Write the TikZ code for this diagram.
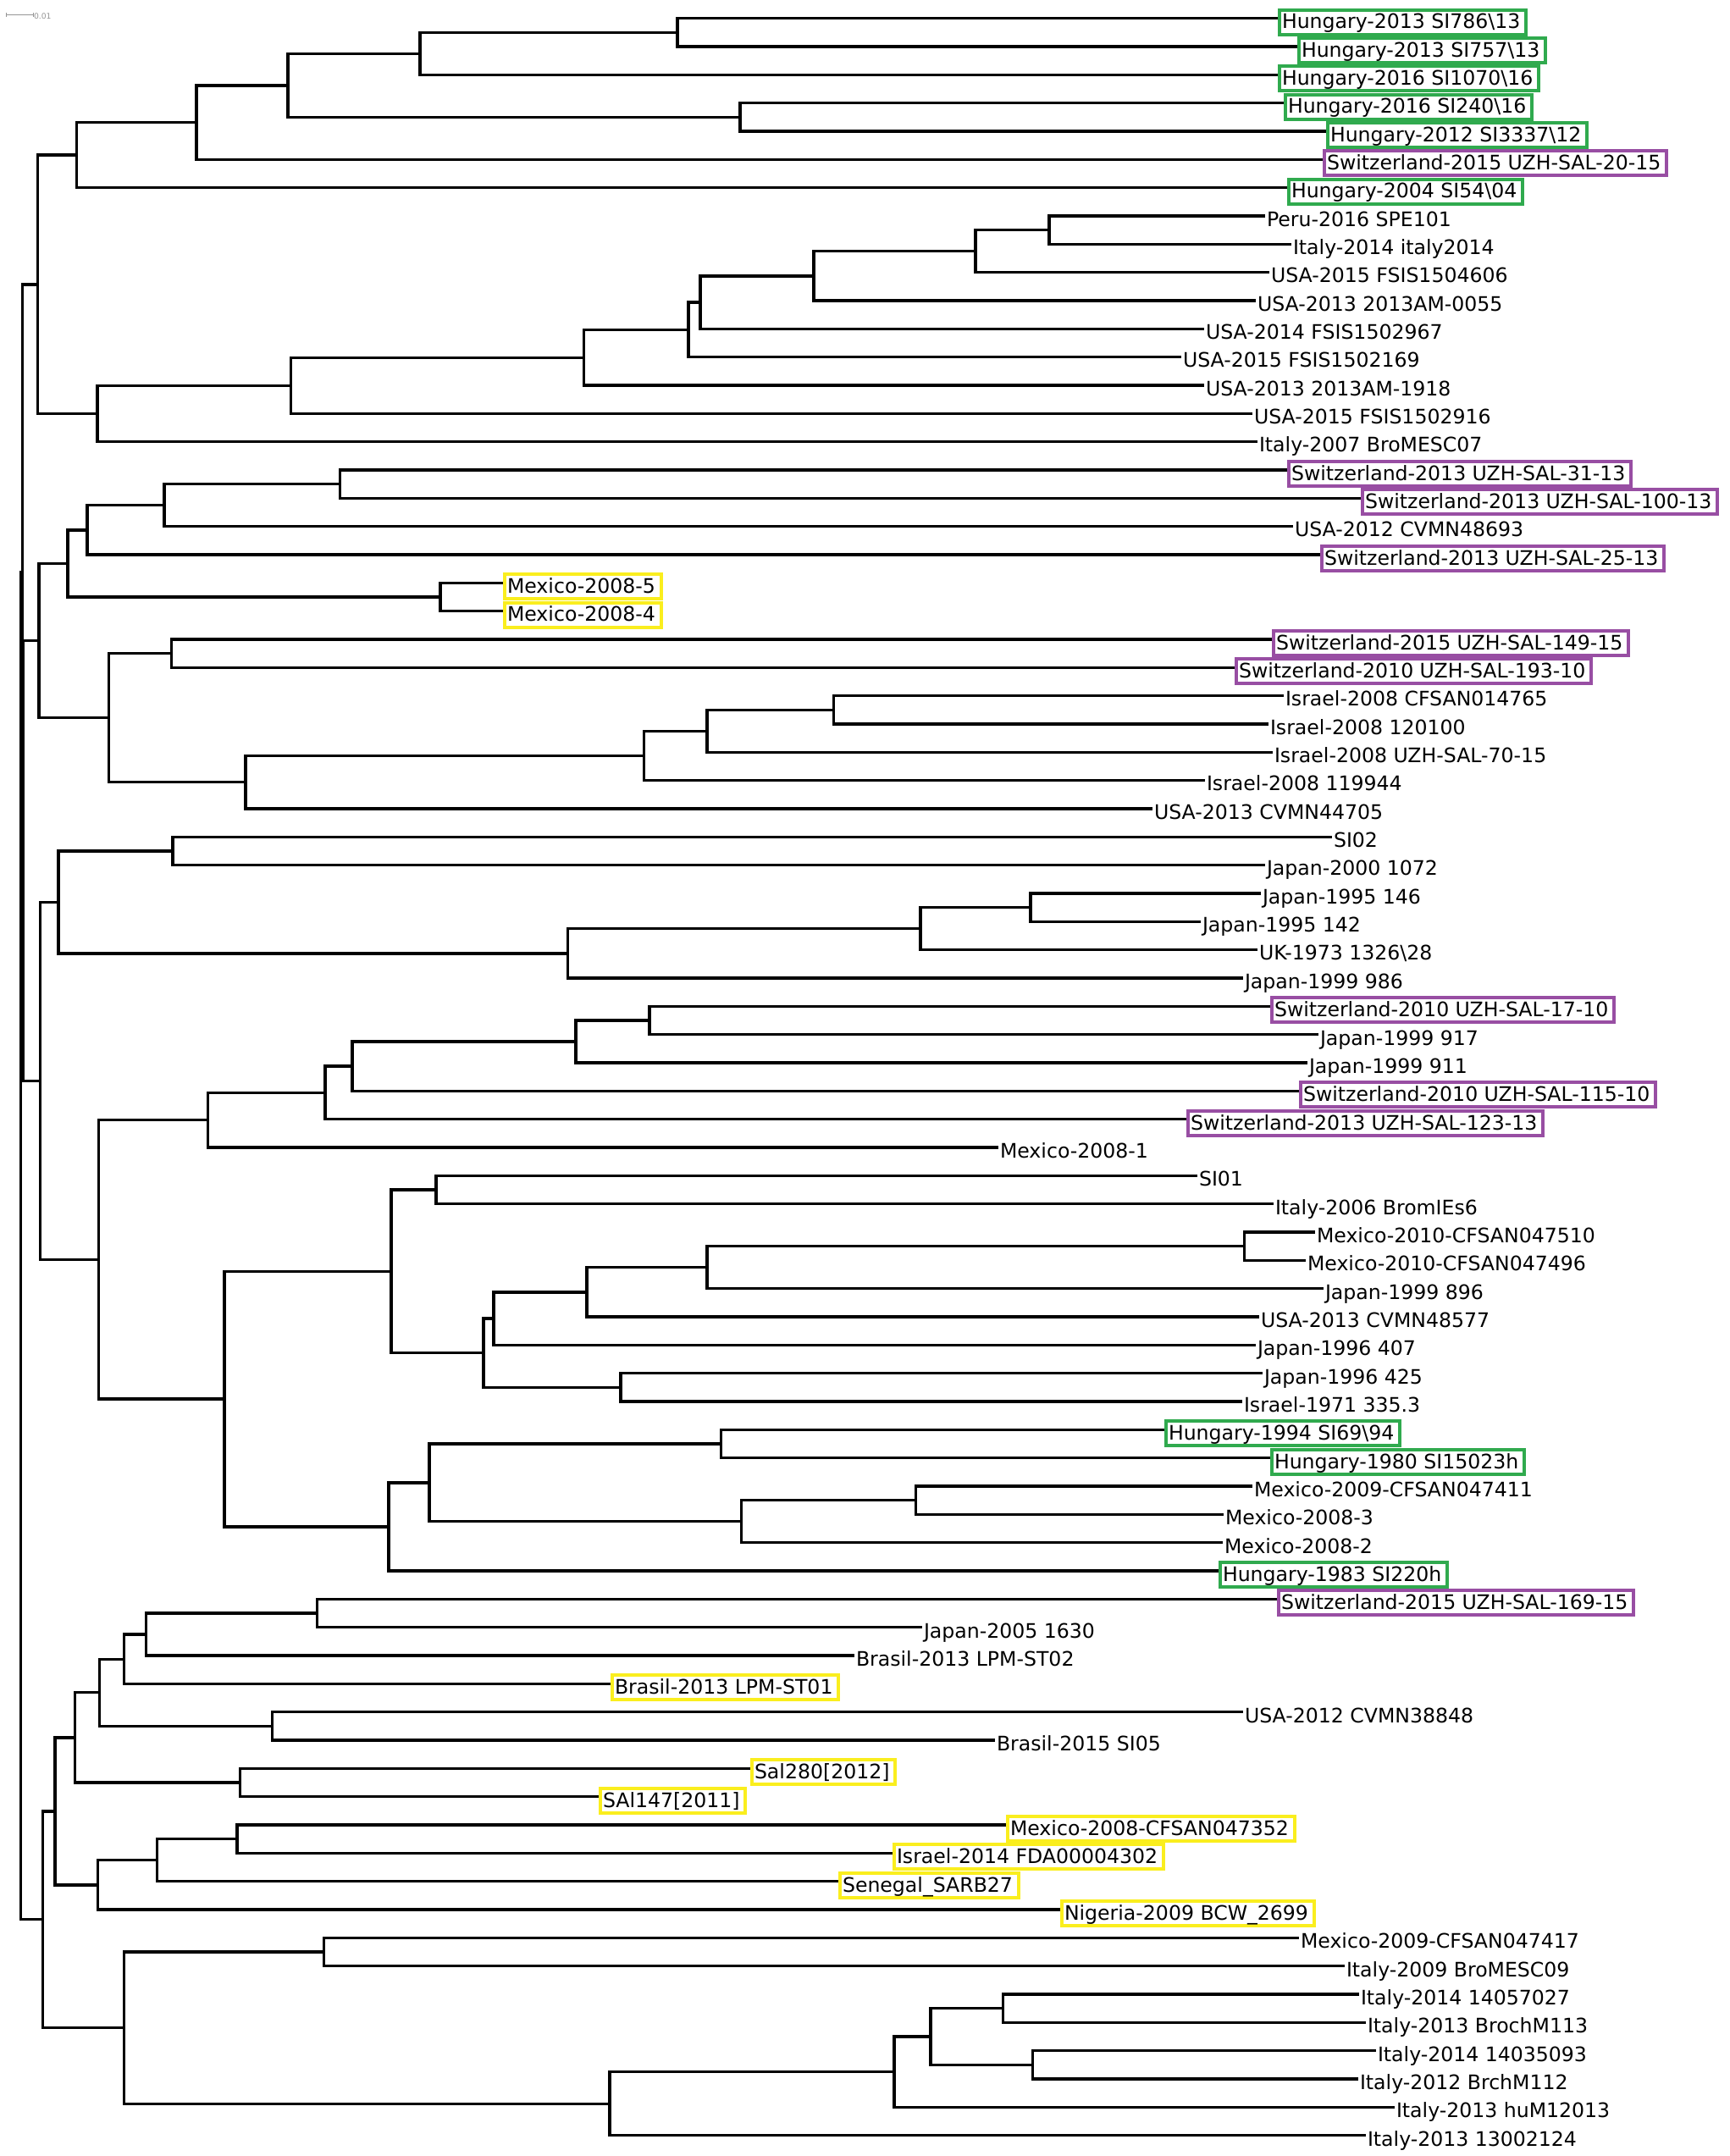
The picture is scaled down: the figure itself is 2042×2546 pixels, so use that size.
\documentclass[tikz,border=0pt]{standalone}
\usepackage{fontspec}
\newfontfamily\lblfont{DejaVu Sans}
\usetikzlibrary{calc}
\definecolor{hgreen}{RGB}{48,170,78}
\definecolor{spurple}{RGB}{152,78,163}
\definecolor{myellow}{RGB}{250,238,30}
\definecolor{sbgray}{RGB}{150,150,150}
\pgfdeclarelayer{bg}
\pgfsetlayers{bg,main}
\tikzset{
  br/.style={line width=1.7pt, black},
  lab/.style={anchor=west, font=\lblfont\fontsize{11.8}{13}\selectfont, inner xsep=1.5pt, inner ysep=0.5pt,
              text height=10.6pt, text depth=2.9pt, yshift=-2.3pt, outer sep=0pt},
  txt/.style={lab, inner xsep=1pt},
  boxed/.style={lab, line width=2pt, fill=white, execute at end node={\hspace{1.8pt}}},
  gbox/.style={boxed, draw=hgreen},
  pbox/.style={boxed, draw=spurple},
  ybox/.style={boxed, draw=myellow},
  sbar/.style={line width=0.5pt, sbgray},
}
\newcommand\lf[4]{\coordinate (l#1) at (#2,{21.7+33.333*(#1-1)}); \node[#3] (t#1) at (l#1) {#4};}
\newcommand\nd[4]{\path let \p1=(#3), \p2=(#4) in coordinate (#1) at ({#2*0.5pt},{(\y1+\y2)/2});
  \begin{pgfonlayer}{bg}\draw[br] (#1) |- (#3); \draw[br] (#1) |- (#4);\end{pgfonlayer}}
\newcommand\bs{\textbackslash}
\begin{document}
\begin{tikzpicture}[x=0.5pt,y=-0.5pt]
\begin{pgfonlayer}{bg}\fill[white] (0,0) rectangle (2042,2546);\end{pgfonlayer}
\useasboundingbox (0,0) rectangle (2042,2546);
% leaves
\lf{1}{1511}{gbox}{Hungary-2013 SI786\bs 13\hspace{4pt}}
\lf{2}{1534}{gbox}{Hungary-2013 SI757\bs 13}
\lf{3}{1511}{gbox}{Hungary-2016 SI1070\bs 16}
\lf{4}{1518}{gbox}{Hungary-2016 SI240\bs 16\hspace{2pt}}
\lf{5}{1568}{gbox}{Hungary-2012 SI3337\bs 12}
\lf{6}{1564}{pbox}{Switzerland-2015 UZH-SAL-20-15}
\lf{7}{1522}{gbox}{Hungary-2004 SI54\bs 04}
\lf{8}{1494}{txt}{Peru-2016 SPE101}
\lf{9}{1525}{txt}{Italy-2014 italy2014}
\lf{10}{1499}{txt}{USA-2015 FSIS1504606}
\lf{11}{1483}{txt}{USA-2013 2013AM-0055}
\lf{12}{1422}{txt}{USA-2014 FSIS1502967}
\lf{13}{1395}{txt}{USA-2015 FSIS1502169}
\lf{14}{1422}{txt}{USA-2013 2013AM-1918}
\lf{15}{1479}{txt}{USA-2015 FSIS1502916}
\lf{16}{1485}{txt}{Italy-2007 BroMESC07}
\lf{17}{1522}{pbox}{Switzerland-2013 UZH-SAL-31-13}
\lf{18}{1609}{pbox}{Switzerland-2013 UZH-SAL-100-13}
\lf{19}{1527}{txt}{USA-2012 CVMN48693}
\lf{20}{1561}{pbox}{Switzerland-2013 UZH-SAL-25-13}
\lf{21}{596}{ybox}{Mexico-2008-5}
\lf{22}{596}{ybox}{Mexico-2008-4}
\lf{23}{1504}{pbox}{Switzerland-2015 UZH-SAL-149-15}
\lf{24}{1460}{pbox}{Switzerland-2010 UZH-SAL-193-10}
\lf{25}{1516}{txt}{Israel-2008 CFSAN014765}
\lf{26}{1498}{txt}{Israel-2008 120100}
\lf{27}{1503}{txt}{Israel-2008 UZH-SAL-70-15}
\lf{28}{1423}{txt}{Israel-2008 119944}
\lf{29}{1361}{txt}{USA-2013 CVMN44705}
\lf{30}{1573}{txt}{SI02}
\lf{31}{1494}{txt}{Japan-2000 1072}
\lf{32}{1489}{txt}{Japan-1995 146}
\lf{33}{1418}{txt}{Japan-1995 142}
\lf{34}{1485}{txt}{UK-1973 1326\bs 28}
\lf{35}{1468}{txt}{Japan-1999 986}
\lf{36}{1502}{pbox}{Switzerland-2010 UZH-SAL-17-10}
\lf{37}{1557}{txt}{Japan-1999 917}
\lf{38}{1544}{txt}{Japan-1999 911}
\lf{39}{1536}{pbox}{Switzerland-2010 UZH-SAL-115-10}
\lf{40}{1403}{pbox}{Switzerland-2013 UZH-SAL-123-13}
\lf{41}{1179}{txt}{Mexico-2008-1}
\lf{42}{1414}{txt}{SI01}
\lf{43}{1504}{txt}{Italy-2006 BromIEs6}
\lf{44}{1553}{txt}{Mexico-2010-CFSAN047510}
\lf{45}{1542}{txt}{Mexico-2010-CFSAN047496}
\lf{46}{1563}{txt}{Japan-1999 896}
\lf{47}{1487}{txt}{USA-2013 CVMN48577}
\lf{48}{1483}{txt}{Japan-1996 407}
\lf{49}{1491}{txt}{Japan-1996 425}
\lf{50}{1467}{txt}{Israel-1971 335.3}
\lf{51}{1377}{gbox}{Hungary-1994 SI69\bs 94}
\lf{52}{1502}{gbox}{Hungary-1980 SI15023h}
\lf{53}{1479}{txt}{Mexico-2009-CFSAN047411}
\lf{54}{1445}{txt}{Mexico-2008-3}
\lf{55}{1444}{txt}{Mexico-2008-2}
\lf{56}{1441}{gbox}{Hungary-1983 SI220h}
\lf{57}{1510}{pbox}{Switzerland-2015 UZH-SAL-169-15}
\lf{58}{1089}{txt}{Japan-2005 1630}
\lf{59}{1009}{txt}{Brasil-2013 LPM-ST02}
\lf{60}{723}{ybox}{Brasil-2013 LPM-ST01}
\lf{61}{1468}{txt}{USA-2012 CVMN38848}
\lf{62}{1175}{txt}{Brasil-2015 SI05}
\lf{63}{888}{ybox}{Sal280[2012]}
\lf{64}{709}{ybox}{SAl147[2011]}
\lf{65}{1190}{ybox}{Mexico-2008-CFSAN047352}
\lf{66}{1056}{ybox}{Israel-2014 FDA00004302}
\lf{67}{992}{ybox}{Senegal\_SARB27}
\lf{68}{1254}{ybox}{Nigeria-2009 BCW\_2699}
\lf{69}{1534}{txt}{Mexico-2009-CFSAN047417}
\lf{70}{1588}{txt}{Italy-2009 BroMESC09}
\lf{71}{1605}{txt}{Italy-2014 14057027}
\lf{72}{1613}{txt}{Italy-2013 BrochM113}
\lf{73}{1625}{txt}{Italy-2014 14035093}
\lf{74}{1604}{txt}{Italy-2012 BrchM112}
\lf{75}{1647}{txt}{Italy-2013 huM12013}
\lf{76}{1613}{txt}{Italy-2013 13002124}
% internal nodes (name, x, child, child)
\nd{n1-2}{800}{l1}{l2}
\nd{n1-3}{496}{n1-2}{l3}
\nd{n4-5}{874}{l4}{l5}
\nd{n1-5}{340}{n1-3}{n4-5}
\nd{n1-6}{232}{n1-5}{l6}
\nd{n1-7}{90.5}{n1-6}{l7}
\nd{n8-9}{1239}{l8}{l9}
\nd{n8-10}{1152}{n8-9}{l10}
\nd{n8-11}{961}{n8-10}{l11}
\nd{n8-12}{827}{n8-11}{l12}
\nd{n8-13}{813}{n8-12}{l13}
\nd{n8-14}{689.6}{n8-13}{l14}
\nd{n8-15}{343.7}{n8-14}{l15}
\nd{n8-16}{115}{n8-15}{l16}
\nd{nA}{44.5}{n1-7}{n8-16}
\nd{n17-18}{401.7}{l17}{l18}
\nd{n17-19}{194}{n17-18}{l19}
\nd{n17-20}{103}{n17-19}{l20}
\nd{n21-22}{520}{l21}{l22}
\nd{n17-22}{80}{n17-20}{n21-22}
\nd{n23-24}{202.7}{l23}{l24}
\nd{n25-26}{984.5}{l25}{l26}
\nd{n25-27}{835}{n25-26}{l27}
\nd{n25-28}{760.6}{n25-27}{l28}
\nd{n25-29}{290}{n25-28}{l29}
\nd{n23-29}{128.5}{n23-24}{n25-29}
\nd{nB}{46}{n17-22}{n23-29}
\nd{n30-31}{204}{l30}{l31}
\nd{n32-33}{1217}{l32}{l33}
\nd{n32-34}{1087}{n32-33}{l34}
\nd{n32-35}{670.6}{n32-34}{l35}
\nd{n30-35}{69}{n30-31}{n32-35}
\nd{n36-37}{767}{l36}{l37}
\nd{n36-38}{680}{n36-37}{l38}
\nd{n36-39}{416}{n36-38}{l39}
\nd{n36-40}{384}{n36-39}{l40}
\nd{n36-41}{245.6}{n36-40}{l41}
\nd{n42-43}{515}{l42}{l43}
\nd{n44-45}{1469.6}{l44}{l45}
\nd{n44-46}{835}{n44-45}{l46}
\nd{n44-47}{692.8}{n44-46}{l47}
\nd{n44-48}{582.8}{n44-47}{l48}
\nd{n49-50}{733}{l49}{l50}
\nd{n44-50}{571}{n44-48}{n49-50}
\nd{n42-50}{462}{n42-43}{n44-50}
\nd{n51-52}{851.6}{l51}{l52}
\nd{n53-54}{1081.5}{l53}{l54}
\nd{n53-55}{875.5}{n53-54}{l55}
\nd{n51-55}{507}{n51-52}{n53-55}
\nd{n51-56}{459}{n51-55}{l56}
\nd{n42-56}{265}{n42-50}{n51-56}
\nd{n36-56}{116.5}{n36-41}{n42-56}
\nd{nC}{47.7}{n30-35}{n36-56}
\nd{n57-58}{374.6}{l57}{l58}
\nd{n57-59}{172.4}{n57-58}{l59}
\nd{n57-60}{146.4}{n57-59}{l60}
\nd{n61-62}{321.5}{l61}{l62}
\nd{n57-62}{117.6}{n57-60}{n61-62}
\nd{n63-64}{283.5}{l63}{l64}
\nd{n57-64}{88.4}{n57-62}{n63-64}
\nd{n65-66}{280}{l65}{l66}
\nd{n65-67}{185.4}{n65-66}{l67}
\nd{n65-68}{115.5}{n65-67}{l68}
\nd{n57-68}{65}{n57-64}{n65-68}
\nd{n69-70}{382.7}{l69}{l70}
\nd{n71-72}{1184.5}{l71}{l72}
\nd{n73-74}{1219.7}{l73}{l74}
\nd{n71-74}{1099}{n71-72}{n73-74}
\nd{n71-75}{1056}{n71-74}{l75}
\nd{n71-76}{720}{n71-75}{l76}
\nd{n69-76}{146.4}{n69-70}{n71-76}
\nd{nD}{50.4}{n57-68}{n69-76}
\nd{nF}{27.6}{nB}{nC}
\nd{nE}{26.2}{nA}{nF}
\nd{nR}{24.7}{nE}{nD}
% scale bar
\coordinate (sb1) at (7,17.5);
\coordinate (sb2) at (39,17.5);
\draw[sbar] (sb1) -- (sb2);
\draw[sbar] ([yshift=1.2pt]sb1) -- ([yshift=-1.2pt]sb1);
\draw[sbar] ([yshift=1.2pt]sb2) -- ([yshift=-1.2pt]sb2);
\node[anchor=west, inner sep=0.3pt, text=sbgray, font=\lblfont\fontsize{4.6}{5}\selectfont] (sbt) at ([yshift=-0.6pt]sb2) {0.01};
\end{tikzpicture}
\end{document}
